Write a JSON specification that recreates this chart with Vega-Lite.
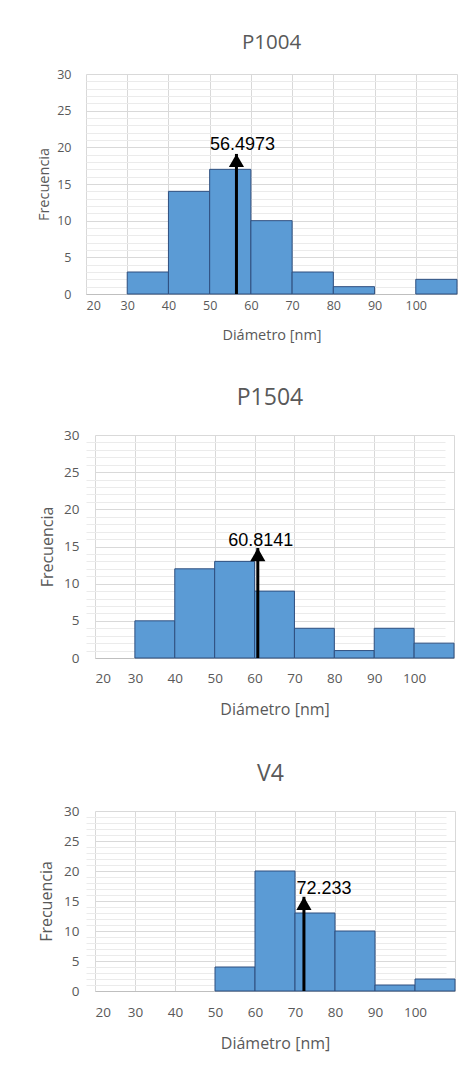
{
  "$schema": "https://vega.github.io/schema/vega-lite/v6.json",
  "background": "white",
  "padding": {"left": 36, "top": 32, "right": 0, "bottom": 5},
  "spacing": 45,
  "datasets": {
    "bins": [
      {"panel": "P1004", "lo": 30, "hi": 40, "count": 3},
      {"panel": "P1004", "lo": 40, "hi": 50, "count": 14},
      {"panel": "P1004", "lo": 50, "hi": 60, "count": 17},
      {"panel": "P1004", "lo": 60, "hi": 70, "count": 10},
      {"panel": "P1004", "lo": 70, "hi": 80, "count": 3},
      {"panel": "P1004", "lo": 80, "hi": 90, "count": 1},
      {"panel": "P1004", "lo": 100, "hi": 110, "count": 2},
      {"panel": "P1504", "lo": 30, "hi": 40, "count": 5},
      {"panel": "P1504", "lo": 40, "hi": 50, "count": 12},
      {"panel": "P1504", "lo": 50, "hi": 60, "count": 13},
      {"panel": "P1504", "lo": 60, "hi": 70, "count": 9},
      {"panel": "P1504", "lo": 70, "hi": 80, "count": 4},
      {"panel": "P1504", "lo": 80, "hi": 90, "count": 1},
      {"panel": "P1504", "lo": 90, "hi": 100, "count": 4},
      {"panel": "P1504", "lo": 100, "hi": 110, "count": 2},
      {"panel": "V4", "lo": 50, "hi": 60, "count": 4},
      {"panel": "V4", "lo": 60, "hi": 70, "count": 20},
      {"panel": "V4", "lo": 70, "hi": 80, "count": 13},
      {"panel": "V4", "lo": 80, "hi": 90, "count": 10},
      {"panel": "V4", "lo": 90, "hi": 100, "count": 1},
      {"panel": "V4", "lo": 100, "hi": 110, "count": 2}
    ],
    "means": [
      {"panel": "P1004", "mean": 56.4973, "tip": 19.1, "label": "56.4973"},
      {"panel": "P1504", "mean": 60.8141, "tip": 14.8, "label": "60.8141"},
      {"panel": "V4", "mean": 72.233, "tip": 15.7, "label": "72.233"}
    ]
  },
  "config": {
    "view": {"stroke": null},
    "axis": {
      "labelFont": "Open Sans",
      "titleFont": "Open Sans",
      "labelColor": "#595959",
      "titleColor": "#595959",
      "titleFontWeight": "normal",
      "domain": false,
      "ticks": false,
      "gridColor": "#D9D9D9",
      "gridWidth": 1
    },
    "title": {"font": "Open Sans", "color": "#595959", "fontWeight": "normal", "baseline": "bottom", "anchor": "middle"}
  },
  "vconcat": [
    {
      "width": 371,
      "height": 220,
      "title": {"text": "P1004", "fontSize": 20.5, "offset": 15},
      "layer": [
        {
          "data": {"name": "bins"},
          "transform": [{"filter": "datum.panel === 'P1004'"}],
          "mark": {"type": "bar", "orient": "vertical", "fill": "#5B9BD5", "stroke": "#2F4F7F", "strokeWidth": 1},
          "encoding": {
            "x": {"field": "lo", "type": "quantitative", "scale": {"domain": [20, 110], "nice": false, "zero": false, "padding": 0},
              "axis": {"values": [20, 30, 40, 50, 60, 70, 80, 90, 100, 110], "labelExpr": "datum.value > 100 ? '' : datum.label", "title": "Diámetro [nm]", "labelFontSize": 12.5, "titleFontSize": 14.5, "labelPadding": 5, "titlePadding": 17, "domain": true, "domainColor": "#BFBFBF", "grid": true}},
            "x2": {"field": "hi"},
            "y": {"field": "count", "type": "quantitative", "scale": {"domain": [0, 30], "nice": false, "padding": 0},
              "axis": {"orient": "left", "values": [0, 5, 10, 15, 20, 25, 30], "title": "Frecuencia", "labelFontSize": 12.5, "titleFontSize": 14.5, "labelPadding": 15, "titlePadding": 5, "grid": true}}
          }
        },
        {
          "data": {"name": "means"},
          "transform": [{"filter": "datum.panel === 'P1004'"}],
          "mark": {"type": "bar", "orient": "vertical", "color": "black", "size": 3},
          "encoding": {
            "x": {"field": "mean", "type": "quantitative", "scale": {"domain": [20, 110], "nice": false, "zero": false, "padding": 0}},
            "y": {"field": "tip", "type": "quantitative", "scale": {"domain": [0, 30], "nice": false, "padding": 0},
              "axis": {"orient": "right", "values": [1, 2, 3, 4, 6, 7, 8, 9, 11, 12, 13, 14, 16, 17, 18, 19, 21, 22, 23, 24, 26, 27, 28, 29], "grid": true, "gridColor": "#EBEBEB", "labels": false, "ticks": false, "domain": false, "title": null}}
          }
        },
        {
          "data": {"name": "means"},
          "transform": [{"filter": "datum.panel === 'P1004'"}],
          "mark": {"type": "point", "shape": "triangle-up", "filled": true, "color": "black", "opacity": 1, "size": 230, "yOffset": 6.6},
          "encoding": {
            "x": {"field": "mean", "type": "quantitative", "scale": {"domain": [20, 110], "nice": false, "zero": false, "padding": 0}},
            "y": {"field": "tip", "type": "quantitative", "scale": {"domain": [0, 30], "nice": false, "padding": 0}, "axis": null}
          }
        },
        {
          "data": {"name": "means"},
          "transform": [{"filter": "datum.panel === 'P1004'"}],
          "mark": {"type": "text", "font": "Liberation Sans", "fontSize": 18, "color": "black", "align": "center", "baseline": "middle", "dx": 6, "dy": -9},
          "encoding": {
            "x": {"field": "mean", "type": "quantitative", "scale": {"domain": [20, 110], "nice": false, "zero": false, "padding": 0}},
            "y": {"field": "tip", "type": "quantitative", "scale": {"domain": [0, 30], "nice": false, "padding": 0}, "axis": null},
            "text": {"field": "label", "type": "nominal"}
          }
        }
      ]
    },
    {
      "width": 368,
      "height": 223,
      "title": {"text": "P1504", "fontSize": 23, "offset": 18},
      "layer": [
        {
          "data": {"name": "bins"},
          "transform": [{"filter": "datum.panel === 'P1504'"}],
          "mark": {"type": "bar", "orient": "vertical", "fill": "#5B9BD5", "stroke": "#2F4F7F", "strokeWidth": 1},
          "encoding": {
            "x": {"field": "lo", "type": "quantitative", "scale": {"domain": [20, 110], "nice": false, "zero": false, "padding": 0, "range": [9, 368]},
              "axis": {"values": [20, 30, 40, 50, 60, 70, 80, 90, 100, 110], "labelExpr": "datum.value > 100 ? '' : datum.label", "title": "Diámetro [nm]", "labelFontSize": 13.5, "titleFontSize": 16, "labelPadding": 13, "titlePadding": 17, "domain": true, "domainColor": "#BFBFBF", "grid": true}},
            "x2": {"field": "hi"},
            "y": {"field": "count", "type": "quantitative", "scale": {"domain": [0, 30], "nice": false, "padding": 0},
              "axis": {"orient": "left", "values": [0, 5, 10, 15, 20, 25, 30], "title": "Frecuencia", "labelFontSize": 13.5, "titleFontSize": 16, "labelPadding": 7, "titlePadding": 8, "grid": true}}
          }
        },
        {
          "data": {"name": "means"},
          "transform": [{"filter": "datum.panel === 'P1504'"}],
          "mark": {"type": "bar", "orient": "vertical", "color": "black", "size": 3},
          "encoding": {
            "x": {"field": "mean", "type": "quantitative", "scale": {"domain": [20, 110], "nice": false, "zero": false, "padding": 0, "range": [9, 368]}},
            "y": {"field": "tip", "type": "quantitative", "scale": {"domain": [0, 30], "nice": false, "padding": 0},
              "axis": {"orient": "right", "values": [1, 2, 3, 4, 6, 7, 8, 9, 11, 12, 13, 14, 16, 17, 18, 19, 21, 22, 23, 24, 26, 27, 28, 29], "grid": true, "gridColor": "#EBEBEB", "labels": false, "ticks": false, "domain": false, "title": null}}
          }
        },
        {
          "data": {"name": "means"},
          "transform": [{"filter": "datum.panel === 'P1504'"}],
          "mark": {"type": "point", "shape": "triangle-up", "filled": true, "color": "black", "opacity": 1, "size": 230, "yOffset": 6.6},
          "encoding": {
            "x": {"field": "mean", "type": "quantitative", "scale": {"domain": [20, 110], "nice": false, "zero": false, "padding": 0, "range": [9, 368]}},
            "y": {"field": "tip", "type": "quantitative", "scale": {"domain": [0, 30], "nice": false, "padding": 0}, "axis": null}
          }
        },
        {
          "data": {"name": "means"},
          "transform": [{"filter": "datum.panel === 'P1504'"}],
          "mark": {"type": "text", "font": "Liberation Sans", "fontSize": 18, "color": "black", "align": "center", "baseline": "middle", "dx": 3, "dy": -7},
          "encoding": {
            "x": {"field": "mean", "type": "quantitative", "scale": {"domain": [20, 110], "nice": false, "zero": false, "padding": 0, "range": [9, 368]}},
            "y": {"field": "tip", "type": "quantitative", "scale": {"domain": [0, 30], "nice": false, "padding": 0}, "axis": null},
            "text": {"field": "label", "type": "nominal"}
          }
        }
      ]
    },
    {
      "width": 369,
      "height": 180,
      "title": {"text": "V4", "fontSize": 23, "offset": 18},
      "layer": [
        {
          "data": {"name": "bins"},
          "transform": [{"filter": "datum.panel === 'V4'"}],
          "mark": {"type": "bar", "orient": "vertical", "fill": "#5B9BD5", "stroke": "#2F4F7F", "strokeWidth": 1},
          "encoding": {
            "x": {"field": "lo", "type": "quantitative", "scale": {"domain": [20, 110], "nice": false, "zero": false, "padding": 0, "range": [9, 369]},
              "axis": {"values": [20, 30, 40, 50, 60, 70, 80, 90, 100, 110], "labelExpr": "datum.value > 100 ? '' : datum.label", "title": "Diámetro [nm]", "labelFontSize": 13.5, "titleFontSize": 16, "labelPadding": 14, "titlePadding": 17, "domain": true, "domainColor": "#BFBFBF", "grid": true}},
            "x2": {"field": "hi"},
            "y": {"field": "count", "type": "quantitative", "scale": {"domain": [0, 30], "nice": false, "padding": 0},
              "axis": {"orient": "left", "values": [0, 5, 10, 15, 20, 25, 30], "title": "Frecuencia", "labelFontSize": 13.5, "titleFontSize": 16, "labelPadding": 7, "titlePadding": 9, "grid": true}}
          }
        },
        {
          "data": {"name": "means"},
          "transform": [{"filter": "datum.panel === 'V4'"}],
          "mark": {"type": "bar", "orient": "vertical", "color": "black", "size": 3},
          "encoding": {
            "x": {"field": "mean", "type": "quantitative", "scale": {"domain": [20, 110], "nice": false, "zero": false, "padding": 0, "range": [9, 369]}},
            "y": {"field": "tip", "type": "quantitative", "scale": {"domain": [0, 30], "nice": false, "padding": 0},
              "axis": {"orient": "right", "values": [1, 2, 3, 4, 6, 7, 8, 9, 11, 12, 13, 14, 16, 17, 18, 19, 21, 22, 23, 24, 26, 27, 28, 29], "grid": true, "gridColor": "#EBEBEB", "labels": false, "ticks": false, "domain": false, "title": null}}
          }
        },
        {
          "data": {"name": "means"},
          "transform": [{"filter": "datum.panel === 'V4'"}],
          "mark": {"type": "point", "shape": "triangle-up", "filled": true, "color": "black", "opacity": 1, "size": 230, "yOffset": 6.6},
          "encoding": {
            "x": {"field": "mean", "type": "quantitative", "scale": {"domain": [20, 110], "nice": false, "zero": false, "padding": 0, "range": [9, 369]}},
            "y": {"field": "tip", "type": "quantitative", "scale": {"domain": [0, 30], "nice": false, "padding": 0}, "axis": null}
          }
        },
        {
          "data": {"name": "means"},
          "transform": [{"filter": "datum.panel === 'V4'"}],
          "mark": {"type": "text", "font": "Liberation Sans", "fontSize": 18, "color": "black", "align": "center", "baseline": "middle", "dx": 20, "dy": -8},
          "encoding": {
            "x": {"field": "mean", "type": "quantitative", "scale": {"domain": [20, 110], "nice": false, "zero": false, "padding": 0, "range": [9, 369]}},
            "y": {"field": "tip", "type": "quantitative", "scale": {"domain": [0, 30], "nice": false, "padding": 0}, "axis": null},
            "text": {"field": "label", "type": "nominal"}
          }
        }
      ]
    }
  ]
}
